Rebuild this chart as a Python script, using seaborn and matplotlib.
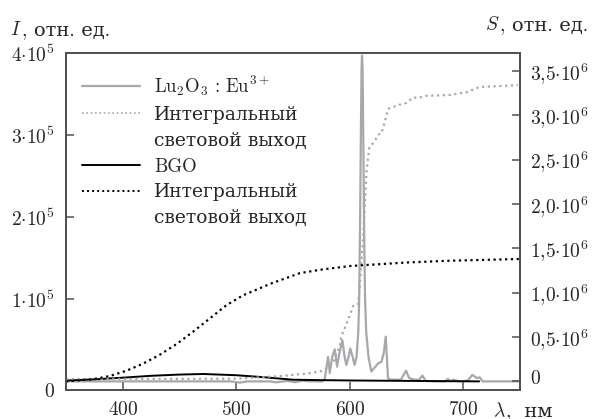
import matplotlib
matplotlib.use("Agg")
import matplotlib.pyplot as plt
import matplotlib.ticker as ticker
import matplotlib.transforms as mtransforms
from matplotlib.lines import Line2D
import seaborn as sns
import pandas as pd

# --- data ---
# Lu2O3:Eu3+ spectrum (left axis, I)
lu_wl = [350, 400, 450, 495, 503, 510, 530, 535, 545, 552, 558, 565, 572, 576,
         578, 580.9, 582.4, 584.5, 586.8, 588.8, 591, 593.5, 595.5, 597, 599, 600.5,
         602.5, 604.3, 606, 607.5, 608.3, 609, 609.8, 610.4, 610.8, 611.3, 611.9,
         612.7, 613.5, 614.5, 616.5, 619, 622, 625, 628, 630, 631.7, 633.7, 636,
         645, 649.6, 652, 654, 658, 661, 664, 667, 675, 684, 686.5, 689, 691, 694,
         697, 704, 708, 712, 714.4, 717, 730, 750]
lu_int = [0, 0, 0, 0, -1500, 0, 0, -1200, 500, -1000, 800, 0, 0, 0,
          3000, 30000, 10000, 30000, 39000, 18000, 35000, 50000, 30000, 20000, 30000, 40000,
          30000, 20000, 30000, 60000, 100000, 180000, 300000, 380000, 397000, 380000, 300000,
          180000, 100000, 60000, 30000, 12000, 17000, 22000, 24000, 35000, 54500, 4000, 2000,
          2000, 13000, 5000, 3000, 2000, 2000, 7000, 500, 0, 0, 3000, 0, 2000, 1000,
          0, 1000, 8000, 4000, 5000, 0, 0, 0]

# Lu2O3:Eu3+ integral light output (right axis, S)
lu_s_wl = [350, 400, 450, 500, 540, 556, 561, 573.6, 578, 585.3, 591.2, 592.7, 600,
           603, 607.3, 608.3, 611.8, 613.3, 614.8, 617.1, 622.1, 625, 628, 631,
           633.7, 635.2, 644, 650, 655.7, 661.6, 667.4, 688, 702.7, 714.4, 732, 748]
lu_s = [25000, 27000, 28000, 30000, 60000, 80000, 85000, 110000, 130000, 210000, 400000,
        510000, 740000, 850000, 870000, 1000000, 1610000, 1990000, 2370000, 2630000,
        2710000, 2780000, 2800000, 2930000, 3070000, 3080000, 3120000, 3140000, 3200000,
        3200000, 3220000, 3230000, 3260000, 3320000, 3330000, 3340000]

# BGO spectrum (left axis, I)
bgo_wl = [350, 375, 400, 425, 450, 471, 500, 525, 550, 575, 600, 650, 714]
bgo_int = [1000, 2500, 4500, 6800, 8300, 9000, 7500, 5000, 2000, 1500, 1100, 600, 0]

# BGO integral light output (right axis, S)
bgo_s_wl = [350, 374, 388.7, 403.4, 418, 432.7, 447.4, 462, 476.8, 491.5, 506, 519,
            530, 556, 575, 600, 650, 688, 750]
bgo_s = [0, 24000, 60000, 120000, 200000, 300000, 420000, 560000, 710000, 860000,
         970000, 1040000, 1100000, 1220000, 1260000, 1300000, 1340000, 1360000, 1380000]

left_ticks = [0, 1e5, 2e5, 3e5, 4e5]
left_labels = ["$0$", r"$1{\cdot}10^{5}$", r"$2{\cdot}10^{5}$", r"$3{\cdot}10^{5}$", r"$4{\cdot}10^{5}$"]
right_ticks = [0, 0.5e6, 1.0e6, 1.5e6, 2.0e6, 2.5e6, 3.0e6, 3.5e6]
right_labels = ["$0$", r"$0{,}5{\cdot}10^{6}$", r"$1{,}0{\cdot}10^{6}$", r"$1{,}5{\cdot}10^{6}$",
                r"$2{,}0{\cdot}10^{6}$", r"$2{,}5{\cdot}10^{6}$", r"$3{,}0{\cdot}10^{6}$",
                r"$3{,}5{\cdot}10^{6}$"]
x_ticks = [400, 500, 600, 700]

sns.set_style("ticks")
plt.rcParams.update({
    "font.family": ["cmr10", "DejaVu Serif"],
    "mathtext.fontset": "cm",
    "font.size": 14,
    "axes.unicode_minus": False,
})

grey = "#a8a8ac"
spine_c = "#505050"
W, H = 592, 419

fig = plt.figure(figsize=(W / 100, H / 100), dpi=100)
ax = fig.add_axes([66 / W, 1 - 390 / H, (520 - 66) / W, (390 - 53) / H])
ax2 = ax.twinx()

lu_df = pd.DataFrame({"wl": lu_wl, "I": lu_int})
bgo_df = pd.DataFrame({"wl": bgo_wl, "I": bgo_int})
lu_s_df = pd.DataFrame({"wl": lu_s_wl, "S": lu_s})
bgo_s_df = pd.DataFrame({"wl": bgo_s_wl, "S": bgo_s})

dots = (0, (1, 1.6))
sns.lineplot(data=lu_df, x="wl", y="I", ax=ax, color=grey, lw=1.6, sort=False)
sns.lineplot(data=bgo_df, x="wl", y="I", ax=ax, color="black", lw=1.4, sort=False)
sns.lineplot(data=lu_s_df, x="wl", y="S", ax=ax2, color=grey, lw=1.6, ls=dots, sort=False)
sns.lineplot(data=bgo_s_df, x="wl", y="S", ax=ax2, color="black", lw=1.6, ls=dots, sort=False)

ax.set_xlim(350, 750)
ax.set_ylim(-0.105e5, 4e5)
ax2.set_ylim(-0.098e6, 3.703e6)

ax.xaxis.set_major_locator(ticker.FixedLocator(x_ticks))
ax.xaxis.set_major_formatter(ticker.FixedFormatter([f"${t}$" for t in x_ticks]))
ax.yaxis.set_major_locator(ticker.FixedLocator(left_ticks))
ax.yaxis.set_major_formatter(ticker.FixedFormatter(left_labels))
ax2.yaxis.set_major_locator(ticker.FixedLocator(right_ticks))
ax2.yaxis.set_major_formatter(ticker.FixedFormatter(right_labels))

ax.set_xlabel("")
ax.set_ylabel("")
ax2.set_ylabel("")
ax.tick_params(axis="both", direction="in", length=6, width=1.1, color=spine_c,
               labelsize=14, pad=8, top=False, right=False)
ax.tick_params(axis="x", pad=8)
ax2.tick_params(axis="y", direction="in", length=6, width=1.1, color=spine_c,
                labelsize=14, pad=7, left=False, right=True)

# the "0" labels sit a little off their ticks in the original
lab0 = ax.yaxis.get_major_ticks()[0].label1
lab0.set_transform(lab0.get_transform() + mtransforms.ScaledTranslation(0, -9 / 100, fig.dpi_scale_trans))
lab0r = ax2.yaxis.get_major_ticks()[0].label2
lab0r.set_transform(lab0r.get_transform() + mtransforms.ScaledTranslation(0, 4 / 100, fig.dpi_scale_trans))

for a in (ax, ax2):
    for sp in a.spines.values():
        sp.set_color(spine_c)
        sp.set_linewidth(1.3)
        sp.set_visible(True)

handles = [
    Line2D([], [], color=grey, lw=1.6),
    Line2D([], [], color=grey, lw=1.2, ls=dots),
    Line2D([], [], color="none"),
    Line2D([], [], color="black", lw=1.4),
    Line2D([], [], color="black", lw=1.4, ls=dots),
    Line2D([], [], color="none"),
]
labels = [r"$\mathrm{Lu_2O_3\,{:}\,Eu^{3+}}$", "Интегральный", "световой выход",
          "BGO", "Интегральный", "световой выход"]
ax.legend(handles, labels, loc="upper left", bbox_to_anchor=(0.01, 0.972),
          frameon=False, handlelength=3.1, handletextpad=0.75, labelspacing=0.42,
          fontsize=13.5, borderaxespad=0.2)

# axis captions: math part and Cyrillic part set side by side
renderer = fig.canvas.get_renderer()


def caption(x_px, y_px, math, plain, right=False):
    y = 1 - y_px / H
    if not right:
        t1 = fig.text(x_px / W, y, math, fontsize=14, va="baseline", ha="left")
        bb = t1.get_window_extent(renderer)
        fig.text(bb.x1 / W, y, plain, fontsize=14, va="baseline", ha="left")
    else:
        t2 = fig.text(x_px / W, y, plain, fontsize=14, va="baseline", ha="right")
        bb = t2.get_window_extent(renderer)
        fig.text(bb.x0 / W, y, math, fontsize=14, va="baseline", ha="right")


caption(10, 35, "$I$", ", отн. ед.")
caption(588, 30, "$S$", ", отн. ед.", right=True)
caption(493, 416, r"$\lambda$", ",  нм")

fig.savefig("out.png", dpi=100)
